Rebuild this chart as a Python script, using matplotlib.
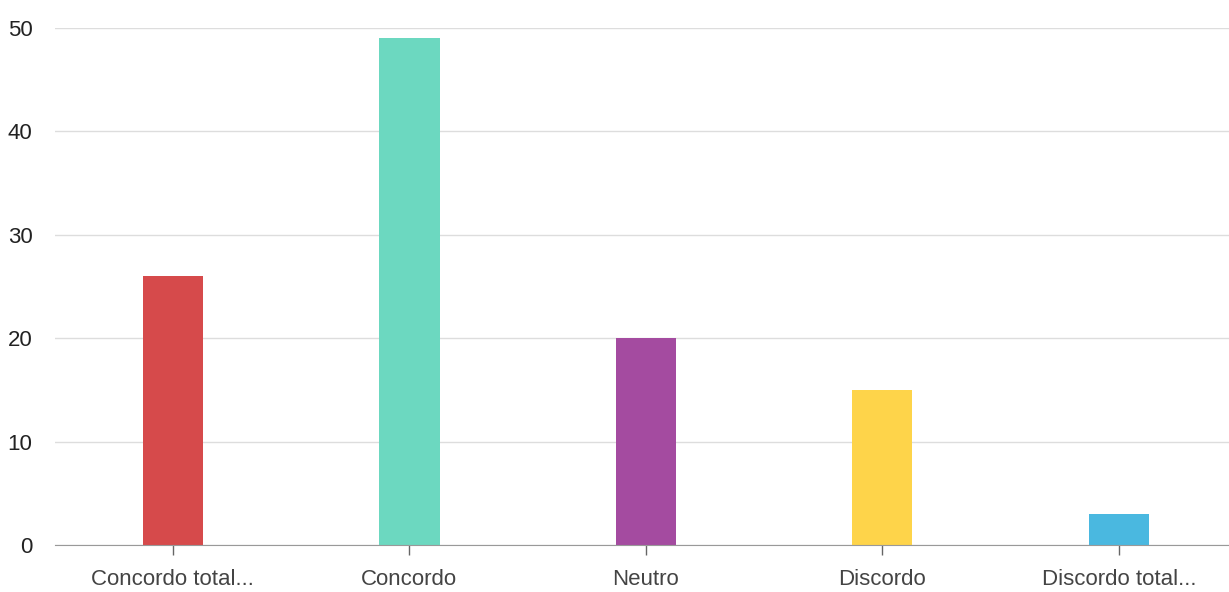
import matplotlib.pyplot as plt

categories = ["Concordo total...", "Concordo", "Neutro", "Discordo", "Discordo total..."]
values = [26, 49, 20, 15, 3]
colors = ["#d64a4b", "#6cd8c0", "#a44ba0", "#fed44a", "#4ab8e0"]
yticks = [0, 10, 20, 30, 40, 50]

plt.rcParams['font.family'] = ['Liberation Sans Narrow', 'Liberation Sans', 'DejaVu Sans']

fig = plt.figure(figsize=(12.29, 5.92), dpi=100)
ax = fig.add_axes([0.0445, 0.0794, 0.962, 0.8733])

x = range(len(categories))
ax.bar(x, values, width=0.255, color=colors, zorder=3)

ax.set_xlim(-0.5, len(categories) - 0.5)
ax.set_ylim(0, 50)
ax.set_yticks(yticks)
ax.set_xticks(list(x))
ax.set_xticklabels(categories, fontsize=16, color="#444444")
ax.tick_params(axis='y', length=0, pad=16, labelsize=16, labelcolor="#222222")
ax.tick_params(axis='x', length=7, width=1, color="#666666", pad=10)

ax.grid(axis='y', color="#dddddd", linewidth=1, zorder=0)
for side in ['top', 'right', 'left']:
    ax.spines[side].set_visible(False)
ax.spines['bottom'].set_color("#999999")
ax.spines['bottom'].set_zorder(4)

fig.savefig("out.png", dpi=100)
